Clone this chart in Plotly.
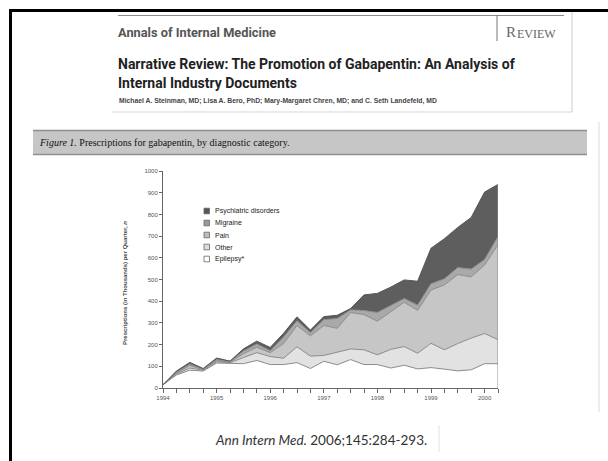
import plotly.graph_objects as go

# quarterly prescriptions (thousands)
quarters = [1994.0, 1994.25, 1994.5, 1994.75, 1995.0, 1995.25, 1995.5, 1995.75,
            1996.0, 1996.25, 1996.5, 1996.75, 1997.0, 1997.25, 1997.5, 1997.75,
            1998.0, 1998.25, 1998.5, 1998.75, 1999.0, 1999.25, 1999.5, 1999.75,
            2000.0, 2000.25]
epilepsy = [15, 60, 82, 78, 115, 115, 112, 127, 108, 108, 117, 90, 123, 107, 131, 108,
            108, 92, 105, 88, 94, 87, 79, 84, 112, 112]
other = [0, 4, 10, 4, 5, 2, 28, 36, 37, 29, 73, 57, 27, 58, 49, 68,
         45, 86, 86, 72, 112, 89, 126, 146, 139, 111]
pain = [0, 4, 12, 2, 6, 2, 18, 25, 18, 68, 98, 93, 138, 110, 168, 162,
        155, 172, 204, 198, 246, 299, 318, 282, 316, 437]
migraine = [0, 4, 6, 2, 5, 2, 12, 15, 9, 30, 22, 15, 27, 45, 12, 19,
            40, 30, 17, 24, 28, 28, 32, 36, 25, 38]
psychiatric = [0, 6, 8, 4, 7, 3, 10, 13, 15, 17, 18, 12, 14, 15, 6, 72,
               88, 85, 86, 110, 164, 185, 185, 238, 311, 240]

year_ticks = [1994, 1995, 1996, 1997, 1998, 1999, 2000]
legend_labels = ["Psychiatric disorders", "Migraine", "Pain", "Other", "Epilepsy*"]

SERIES = [
    ("Epilepsy*", epilepsy, "#ffffff", "#8c8c8c"),
    ("Other", other, "#e2e2e2", "#8c8c8c"),
    ("Pain", pain, "#c6c6c6", "#8c8c8c"),
    ("Migraine", migraine, "#a9a9a9", "#8c8c8c"),
    ("Psychiatric disorders", psychiatric, "#5e5e5e", "#555555"),
]
LEGEND_FILL = {
    "Psychiatric disorders": "#555555",
    "Migraine": "#9a9a9a",
    "Pain": "#bdbdbd",
    "Other": "#dedede",
    "Epilepsy*": "#ffffff",
}

W, H = 608, 461
L, T = 163, 171
R = W - 498
B = H - 388
PW, PH = W - L - R, H - T - B


def px(x):
    # window pixel -> paper x
    return (x - L) / PW


def py(y):
    # window pixel -> paper y
    return (H - B - y) / PH


fig = go.Figure()

for name, vals, fill, line in SERIES:
    fig.add_trace(go.Scatter(
        x=quarters, y=vals, name=name, mode="lines",
        stackgroup="rx", fillcolor=fill,
        line=dict(color=line, width=1),
        hovertemplate=f"<b>{name}</b><br>%{{x}}: %{{y}}k<extra></extra>",
    ))

# right-hand edge of the stacked area
totals = [sum(v) for v in zip(epilepsy, other, pain, migraine, psychiatric)]
fig.add_shape(type="line", xref="x", yref="y", x0=quarters[-1], x1=quarters[-1],
              y0=0, y1=totals[-1], line=dict(color="#8c8c8c", width=1))

shapes = []
ann = []

# slide frame
shapes.append(dict(type="line", x0=px(9), x1=px(W), y0=py(10.5), y1=py(10.5),
                   line=dict(color="#000000", width=3)))
shapes.append(dict(type="line", x0=px(10.5), x1=px(10.5), y0=py(9), y1=py(H),
                   line=dict(color="#000000", width=3)))

# journal header box
shapes.append(dict(type="line", x0=px(118), x1=px(564), y0=py(15.5), y1=py(15.5),
                   line=dict(color="#8a8a8a", width=1)))
shapes.append(dict(type="line", x0=px(497), x1=px(497), y0=py(15), y1=py(41),
                   line=dict(color="#777777", width=1)))
shapes.append(dict(type="line", x0=px(112), x1=px(572), y0=py(112), y1=py(112),
                   line=dict(color="#d6d6d6", width=1.2)))
shapes.append(dict(type="line", x0=px(572), x1=px(572), y0=py(12), y1=py(112),
                   line=dict(color="#d6d6d6", width=1.2)))

# figure caption bar
shapes.append(dict(type="rect", x0=px(33), x1=px(587), y0=py(155), y1=py(130),
                   fillcolor="#c6c6c6", line=dict(width=0)))
for yy in (130.5, 154.5):
    shapes.append(dict(type="line", x0=px(33), x1=px(587), y0=py(yy), y1=py(yy),
                       line=dict(color="#8e8e8e", width=1.5)))

# faint page edges
shapes.append(dict(type="line", x0=px(599), x1=px(599), y0=py(122), y1=py(412),
                   line=dict(color="#e6e6e6", width=1.5)))
shapes.append(dict(type="line", x0=px(439), x1=px(439), y0=py(425), y1=py(452),
                   line=dict(color="#e2e2e2", width=1)))

# manual legend
for k, lab in enumerate(legend_labels):
    yc = 211 + 12 * k
    shapes.append(dict(type="rect", x0=px(204), x1=px(209.5), y0=py(yc + 2.8), y1=py(yc - 2.8),
                       fillcolor=LEGEND_FILL[lab], line=dict(color="#666666", width=0.8)))
    ann.append(dict(x=px(212.5), y=py(yc), text=lab, xanchor="left", yanchor="middle",
                    font=dict(size=7, color="#222222", family="Liberation Sans")))

HEAD = "Roboto, Liberation Sans, sans-serif"

ann.append(dict(x=px(116), y=py(32.5), text="<b>Annals of Internal Medicine</b>",
                xanchor="left", yanchor="middle",
                font=dict(size=12.8, color="#555555", family=HEAD)))
ann.append(dict(x=px(504), y=py(32), text="R", xanchor="left", yanchor="middle",
                font=dict(size=15, color="#666666", family="Liberation Serif")))
ann.append(dict(x=px(515), y=py(33.5), text="EVIEW", xanchor="left", yanchor="middle",
                font=dict(size=12, color="#666666", family="Liberation Serif")))
ann.append(dict(x=px(116), y=py(63.5),
                text="<b>Narrative Review: The Promotion of Gabapentin: An Analysis of</b>",
                xanchor="left", yanchor="middle",
                font=dict(size=14, color="#222222", family=HEAD)))
ann.append(dict(x=px(116), y=py(83), text="<b>Internal Industry Documents</b>",
                xanchor="left", yanchor="middle",
                font=dict(size=14, color="#222222", family=HEAD)))
ann.append(dict(x=px(117), y=py(101),
                text="<b>Michael A. Steinman, MD; Lisa A. Bero, PhD; Mary-Margaret Chren, MD; "
                     "and C. Seth Landefeld, MD</b>",
                xanchor="left", yanchor="middle",
                font=dict(size=6.8, color="#444444", family="Liberation Sans")))
ann.append(dict(x=px(37), y=py(142.5),
                text="<i>Figure 1.</i> Prescriptions for gabapentin, by diagnostic category.",
                xanchor="left", yanchor="middle",
                font=dict(size=10, color="#111111", family="Liberation Serif")))
ann.append(dict(x=px(125), y=py(283), text="<b>Prescriptions (in Thousands) per Quarter, <i>n</i></b>",
                textangle=-90, xanchor="center", yanchor="middle",
                font=dict(size=6, color="#444444", family="Liberation Sans")))
ann.append(dict(x=px(320.5), y=py(440), text="<i>Ann Intern Med.</i> 2006;145:284-293.",
                xanchor="center", yanchor="middle",
                font=dict(size=13.5, color="#333333", family="Lato, Open Sans, sans-serif")))

for a in ann:
    a.update(xref="paper", yref="paper", showarrow=False)
for s in shapes:
    s.update(xref="paper", yref="paper", layer="above")

fig.update_layout(
    width=W, height=H,
    margin=dict(l=L, r=R, t=T, b=B),
    paper_bgcolor="white", plot_bgcolor="white",
    showlegend=False,
    shapes=list(fig.layout.shapes) + shapes,
    annotations=ann,
    xaxis=dict(
        range=[1994, 2000.25], tickvals=year_ticks, ticktext=[str(y) for y in year_ticks],
        showgrid=False, zeroline=False, showline=True, linecolor="#666666", linewidth=1,
        ticks="outside", ticklen=4, tickcolor="#666666", tickwidth=1,
        minor=dict(dtick=0.25, tick0=1994, ticks="outside", ticklen=4, tickcolor="#666666"),
        tickfont=dict(size=6, color="#555555", family="Liberation Sans"),
    ),
    yaxis=dict(
        range=[0, 1000], dtick=100, showgrid=False, zeroline=False,
        showline=True, linecolor="#666666", linewidth=1,
        ticks="outside", ticklen=3, tickcolor="#666666",
        tickfont=dict(size=6, color="#555555", family="Liberation Sans"),
    ),
)

# drop the page's default body margin so the figure sits at the window corner
fig.write_html(
    "out.html",
    config=dict(displayModeBar=False),
    post_script="document.body.style.margin='0';"
                "document.documentElement.style.overflow='hidden';",
)
